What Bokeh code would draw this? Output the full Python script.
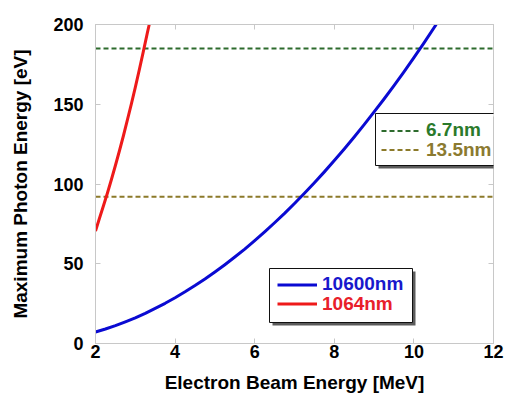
from bokeh.plotting import figure
from bokeh.models import Legend, LegendItem, LinearAxis, FixedTicker, Range1d, BoxAnnotation
from bokeh.embed import file_html
from bokeh.resources import INLINE

# ---- data ----
x_limits = [2, 12]
y_limits = [0, 200]
x_ticks = [2, 4, 6, 8, 10, 12]
y_ticks = [0, 50, 100, 150, 200]

# 10600 nm (CO2 laser) curve: electron beam energy [MeV] -> max photon energy [eV]
co2_energy = [2, 2.25, 2.5, 2.75, 3, 3.25, 3.5, 3.75, 4, 4.25, 4.5, 4.75, 5, 5.25,
              5.5, 5.75, 6, 6.25, 6.5, 6.75, 7, 7.25, 7.5, 7.75, 8, 8.25, 8.5,
              8.75, 9, 9.25, 9.5, 9.75, 10, 10.25, 10.56]
co2_photon = [7.2, 9.1, 11.2, 13.6, 16.1, 18.9, 22, 25.2, 28.7, 32.4, 36.3, 40.4,
              44.8, 49.4, 54.2, 59.2, 64.5, 70, 75.7, 81.6, 87.8, 94.2, 100.8,
              107.6, 114.7, 122, 129.5, 137.2, 145.2, 153.3, 161.7, 170.3, 179.2,
              188.3, 200]

# 1064 nm curve
nd_energy = [2, 2.1, 2.2, 2.3, 2.4, 2.5, 2.6, 2.7, 2.8, 2.9, 3, 3.1, 3.2, 3.3, 3.35]
nd_photon = [70.5, 78.5, 86.4, 94.4, 102.8, 111.6, 120.7, 130.1, 140, 150.1, 160.6,
             171.5, 182.8, 194.4, 200]

# target wavelengths (horizontal reference lines)
target_labels = ["6.7nm", "13.5nm"]
target_photon = [185, 92]

laser_labels = ["10600nm", "1064nm"]

FONT = "Liberation Sans"
GRAY = "#c8c8c8"

p = figure(width=510, height=397,
           x_range=Range1d(x_limits[0], x_limits[1]),
           y_range=Range1d(y_limits[0], y_limits[1]),
           output_backend="svg", toolbar_location=None,
           min_border_left=95, min_border_right=17,
           min_border_top=24, min_border_bottom=54,
           outline_line_color=GRAY, background_fill_color="white",
           border_fill_color="white")
p.xgrid.visible = False
p.ygrid.visible = False


def style_axis(ax, ticks, show_labels):
    ax.ticker = FixedTicker(ticks=ticks)
    ax.axis_line_color = GRAY
    ax.major_tick_line_color = GRAY
    ax.major_tick_in = 5
    ax.major_tick_out = 0
    ax.minor_tick_line_color = None
    ax.major_label_text_font = FONT
    ax.major_label_text_font_style = "bold"
    ax.major_label_text_color = "black"
    if show_labels:
        ax.major_label_text_font_size = "18px"
    else:
        ax.major_label_text_font_size = "0px"
        ax.major_label_overrides = {t: "" for t in ticks}
        ax.major_label_standoff = 0


xb = p.below[0]
yl = p.left[0]
style_axis(xb, x_ticks, True)
style_axis(yl, y_ticks, True)
xb.major_label_standoff = 1
yl.major_label_standoff = 12
xb.axis_label = "Electron Beam Energy [MeV]"
yl.axis_label = "Maximum Photon Energy [eV]"
for ax in (xb, yl):
    ax.axis_label_text_font = FONT
    ax.axis_label_text_font_style = "bold"
    ax.axis_label_text_font_size = "19px"
    ax.axis_label_text_color = "black"
xb.axis_label_standoff = 11
yl.axis_label_standoff = 19

xt = LinearAxis()
style_axis(xt, x_ticks, False)
p.add_layout(xt, "above")
yr = LinearAxis()
style_axis(yr, y_ticks, False)
p.add_layout(yr, "right")

# ---- glyphs ----
line_colors = ["#2d6b2d", "#8c7a2a"]
target_text_colors = ["#2b7a2b", "#8b7a30"]
target_renderers = []
for e, c in zip(target_photon, line_colors):
    r = p.line(x=x_limits, y=[e, e], line_color=c, line_width=2, line_dash="5 3")
    target_renderers.append(r)

co2_r = p.line(co2_energy, co2_photon, line_color="#0a0ad2", line_width=3,
               line_join="round")
nd_r = p.line(nd_energy, nd_photon, line_color="#ee1a1a", line_width=3,
              line_join="round")
laser_renderers = [co2_r, nd_r]
laser_text_colors = ["#1818cc", "#e8202a"]


def screen_box(left, right, bottom, top, **kw):
    return BoxAnnotation(left=left, right=right, bottom=bottom, top=top,
                         left_units="screen", right_units="screen",
                         bottom_units="screen", top_units="screen", **kw)


row_common = dict(label_text_font=FONT, label_text_font_style="bold",
                  label_text_font_size="19px", glyph_width=40, glyph_height=21,
                  label_height=21, label_standoff=5, padding=0, spacing=0,
                  margin=0, background_fill_alpha=0, border_line_alpha=0)


def boxed_legend(labels, renderers, colors, box, glyph_x, row_centers):
    left, right, bottom, top = box
    p.add_layout(screen_box(left + 3, right + 3, bottom - 3, top - 3,
                            fill_color="#333333", fill_alpha=0.8, line_alpha=0))
    p.add_layout(screen_box(left, right, bottom, top, fill_color="white",
                            fill_alpha=1.0, line_color="#111111", line_width=1,
                            line_alpha=1.0))
    for lab, r, c, cy in zip(labels, renderers, colors, row_centers):
        leg = Legend(items=[LegendItem(label=lab, renderers=[r])],
                     location=(glyph_x, cy - 10.5), label_text_color=c, **row_common)
        p.add_layout(leg)


# positions in px relative to the plot frame's bottom-left corner
boxed_legend(target_labels, target_renderers, target_text_colors,
             (280, 410, 178, 230), 286, [212.5, 193])
boxed_legend(laser_labels, laser_renderers, laser_text_colors,
             (174, 317, 21, 75), 182, [58.5, 39])

open("out.html", "w").write(file_html(p, INLINE))
